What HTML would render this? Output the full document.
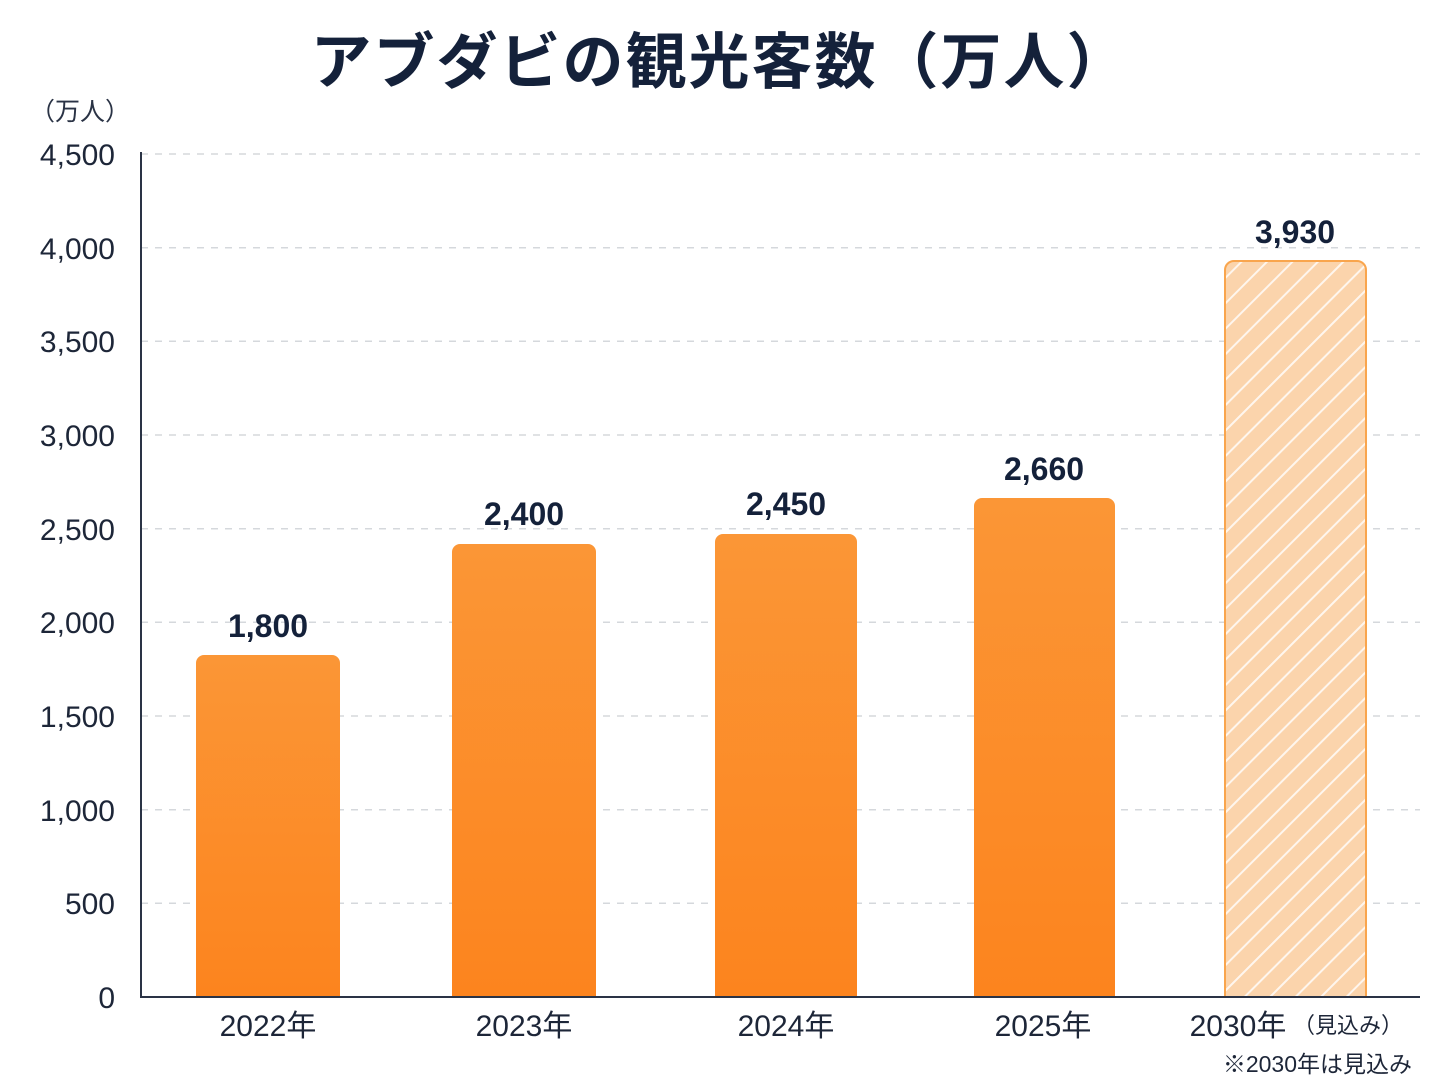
<!DOCTYPE html>
<html><head><meta charset="utf-8"><style>
body{margin:0;background:#fff;}
svg text{font-family:"Liberation Sans","Noto Sans CJK JP",sans-serif;}
</style></head><body>
<svg width="1448" height="1086" viewBox="0 0 1448 1086" xmlns="http://www.w3.org/2000/svg">
<defs>
<linearGradient id="g" x1="0" y1="0" x2="0" y2="1"><stop offset="0" stop-color="#fb9636"/><stop offset="1" stop-color="#fc841e"/></linearGradient>
<pattern id="h" patternUnits="userSpaceOnUse" width="18" height="18" patternTransform="rotate(45)">
<rect width="18" height="18" fill="#fbd4ac"/><rect x="0" y="0" width="2" height="18" fill="#fff" opacity="0.8"/></pattern>
</defs>
<text x="720" y="83" text-anchor="middle" font-size="61" font-weight="bold" fill="#14213a" letter-spacing="2">アブダビの観光客数（万人）</text>
<text x="30" y="120" font-size="25" fill="#2a3345">（万人）</text>
<g stroke="#d5d8dc" stroke-width="1.5" stroke-dasharray="7,7">
<line x1="141" x2="1420" y1="154" y2="154"/><line x1="141" x2="1420" y1="247.7" y2="247.7"/><line x1="141" x2="1420" y1="341.3" y2="341.3"/><line x1="141" x2="1420" y1="435" y2="435"/><line x1="141" x2="1420" y1="528.7" y2="528.7"/><line x1="141" x2="1420" y1="622.3" y2="622.3"/><line x1="141" x2="1420" y1="716" y2="716"/><line x1="141" x2="1420" y1="809.7" y2="809.7"/><line x1="141" x2="1420" y1="903.3" y2="903.3"/>
</g>
<g font-size="30" fill="#1d2638" text-anchor="end">
<text x="115" y="165">4,500</text><text x="115" y="259">4,000</text><text x="115" y="352">3,500</text><text x="115" y="446">3,000</text><text x="115" y="540">2,500</text><text x="115" y="633">2,000</text><text x="115" y="727">1,500</text><text x="115" y="821">1,000</text><text x="115" y="914">500</text><text x="115" y="1008">0</text>
</g>
<path d="M196,997V663a8,8 0 0 1 8,-8H332a8,8 0 0 1 8,8V997Z" fill="url(#g)"/>
<path d="M452,997V552a8,8 0 0 1 8,-8H588a8,8 0 0 1 8,8V997Z" fill="url(#g)"/>
<path d="M715,997V542a8,8 0 0 1 8,-8H849a8,8 0 0 1 8,8V997Z" fill="url(#g)"/>
<path d="M974,997V506a8,8 0 0 1 8,-8H1107a8,8 0 0 1 8,8V997Z" fill="url(#g)"/>
<path d="M1225,997V270a9,9 0 0 1 9,-9H1357a9,9 0 0 1 9,9V997Z" fill="url(#h)" stroke="#f9a54d" stroke-width="2"/>
<line x1="141" y1="152" x2="141" y2="997" stroke="#2a3345" stroke-width="2"/>
<line x1="140" y1="997" x2="1420" y2="997" stroke="#2a3345" stroke-width="2"/>
<g font-size="32" font-weight="bold" fill="#14213a" text-anchor="middle">
<text x="268" y="637">1,800</text><text x="524" y="525">2,400</text><text x="786" y="515">2,450</text><text x="1044" y="480">2,660</text><text x="1295" y="243">3,930</text>
</g>
<g font-size="30" fill="#1d2638" text-anchor="middle">
<text x="268" y="1036">2022年</text><text x="524" y="1036">2023年</text><text x="786" y="1036">2024年</text><text x="1043" y="1036">2025年</text>
<text x="1238" y="1036">2030年</text>
</g>
<text x="1293" y="1033" font-size="22" fill="#1d2638">（見込み）</text>
<text x="1412" y="1072" font-size="23" fill="#1d2638" text-anchor="end">※2030年は見込み</text>
</svg>
</body></html>
